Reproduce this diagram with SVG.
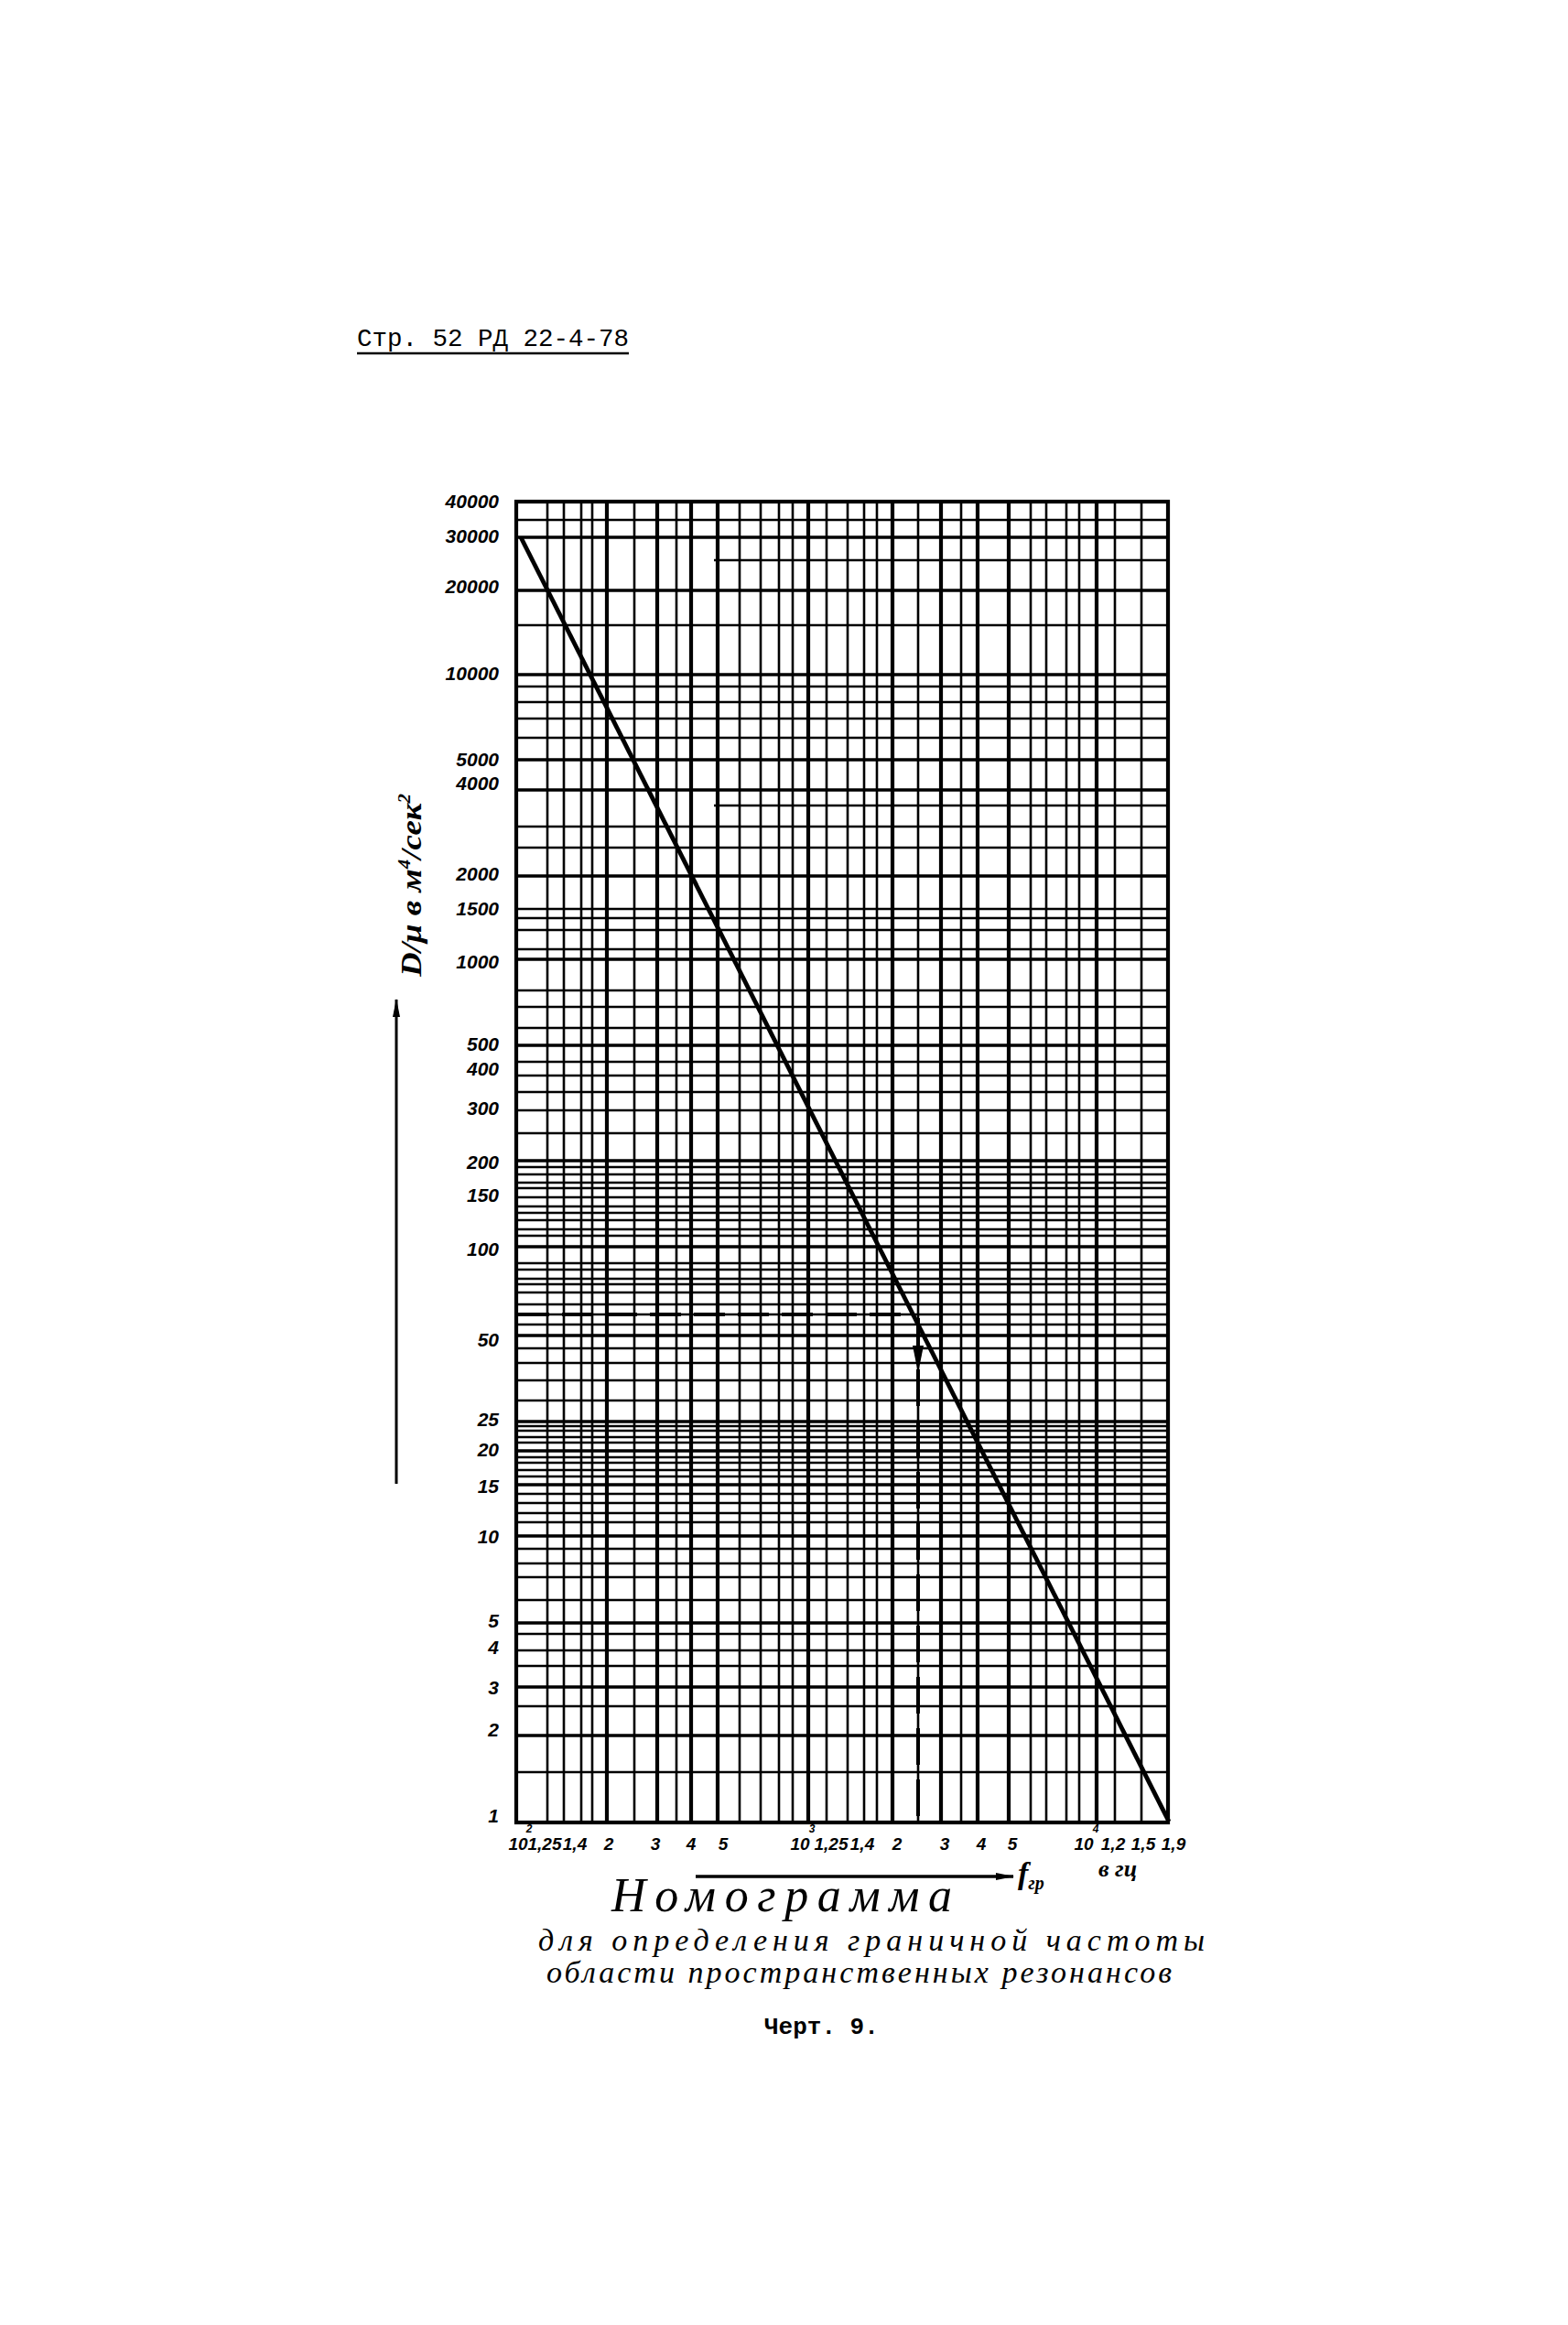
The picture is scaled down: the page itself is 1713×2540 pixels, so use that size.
<svg xmlns="http://www.w3.org/2000/svg" width="1713" height="2540" viewBox="0 0 1713 2540">
<style>
.bg{fill:#fff}
.ht{stroke:#000;stroke-width:2.7;fill:none}
.hm{stroke:#000;stroke-width:3.4;fill:none}
.vt{stroke:#000;stroke-width:2.6;fill:none}
.vm{stroke:#000;stroke-width:4.2;fill:none}
.bd{stroke:#000;stroke-width:4.2;fill:none}
.yl{font-family:"Liberation Sans",Arial,sans-serif;font-style:italic;font-weight:bold;font-size:21px;text-anchor:end;fill:#000}
.xl{font-family:"Liberation Sans",Arial,sans-serif;font-style:italic;font-weight:bold;font-size:19px;text-anchor:middle;fill:#000}
.sup{font-size:12px}
.hand{font-family:"Liberation Serif","DejaVu Serif",serif;font-style:italic;fill:#000}
.mono{font-family:"Liberation Mono","DejaVu Sans Mono",monospace;fill:#000}
</style>
<defs>
<marker id="arr" viewBox="0 0 20 10" refX="19" refY="5" markerWidth="20" markerHeight="10" markerUnits="userSpaceOnUse" orient="auto">
<path d="M0,1 L20,5 L0,9 Z" fill="#000"/>
</marker>
</defs>
<rect class="bg" x="0" y="0" width="1713" height="2540"/>

<g id="header">
<text class="mono" x="390" y="378" font-size="27.5">Стр. 52 РД 22-4-78</text>
<line x1="390" y1="386" x2="687" y2="386" stroke="#000" stroke-width="2.5"/>
</g>

<g id="grid">
<path class="ht" d="M564 568H1276M564 683H1276M564 750H1276M564 767H1276M564 785H1276M564 806H1276M564 903H1276M564 926H1276M564 993H1276M564 1003H1276M564 1016H1276M564 1037H1276M564 1082H1276M564 1100H1276M564 1123H1276M564 1160H1276M564 1175H1276M564 1193H1276M564 1213H1276M564 1238H1276M564 1275H1276M564 1283H1276M564 1292H1276M564 1298H1276M564 1308H1276M564 1318H1276M564 1325H1276M564 1333H1276M564 1343H1276M564 1350H1276M564 1380H1276M564 1387H1276M564 1397H1276M564 1403H1276M564 1412H1276M564 1425H1276M564 1436H1276M564 1447H1276M564 1473H1276M564 1489H1276M564 1508H1276M564 1530H1276M564 1558H1276M564 1563H1276M564 1570H1276M564 1576H1276M564 1592H1276M564 1598H1276M564 1606H1276M564 1613H1276M564 1632H1276M564 1642H1276M564 1653H1276M564 1663H1276M564 1692H1276M564 1708H1276M564 1723H1276M564 1748H1276M564 1785H1276M564 1803H1276M564 1820H1276M564 1864H1276M564 1936H1276M780 612H1276M780 880H1276"/>
<path class="hm" d="M564 587H1276M564 645H1276M564 737H1276M564 830H1276M564 863H1276M564 957H1276M564 1048H1276M564 1142H1276M564 1268H1276M564 1362H1276M564 1459H1276M564 1553H1276M564 1585H1276M564 1622H1276M564 1678H1276M564 1773H1276M564 1843H1276M564 1896H1276"/>
<path class="vt" d="M598 548V1991M616 548V1991M635 548V1991M647 548V1991M693 548V1991M739 548V1991M808 548V1991M831 548V1991M851 548V1991M866 548V1991M903 548V1991M926 548V1991M944 548V1991M958 548V1991M1003 548V1991M1050 548V1991M1126 548V1991M1143 548V1991M1165 548V1991M1179 548V1991M1218 548V1991M1247 548V1991"/>
<path class="vm" d="M663 548V1991M718 548V1991M755 548V1991M784 548V1991M883 548V1991M975 548V1991M1028 548V1991M1068 548V1991M1102 548V1991M1198 548V1991"/>
<rect class="bd" x="564" y="548" width="712" height="1443"/>
</g>

<g id="connectors">
<line id="curve" x1="569" y1="587" x2="1277" y2="1990" stroke="#000" stroke-width="4.8"/>
<line id="example-h" x1="566" y1="1436" x2="996" y2="1436" stroke="#000" stroke-width="4" stroke-dasharray="34 14"/>
<line id="example-v" x1="1003" y1="1440" x2="1003" y2="1988" stroke="#000" stroke-width="4" stroke-dasharray="40 16"/>
<path id="example-arrow" d="M997 1470 L1003 1500 L1009 1470 Z" fill="#000"/>
<line id="y-arrow" x1="433" y1="1621" x2="433" y2="1092" stroke="#000" stroke-width="3" marker-end="url(#arr)"/>
<line id="x-arrow" x1="760" y1="2050" x2="1107" y2="2050" stroke="#000" stroke-width="3.5" marker-end="url(#arr)"/>
</g>

<g id="y-labels">
<text class="yl" x="545" y="555">40000</text>
<text class="yl" x="545" y="593">30000</text>
<text class="yl" x="545" y="648">20000</text>
<text class="yl" x="545" y="743">10000</text>
<text class="yl" x="545" y="837">5000</text>
<text class="yl" x="545" y="863">4000</text>
<text class="yl" x="545" y="962">2000</text>
<text class="yl" x="545" y="1000">1500</text>
<text class="yl" x="545" y="1058">1000</text>
<text class="yl" x="545" y="1148">500</text>
<text class="yl" x="545" y="1175">400</text>
<text class="yl" x="545" y="1218">300</text>
<text class="yl" x="545" y="1277">200</text>
<text class="yl" x="545" y="1313">150</text>
<text class="yl" x="545" y="1372">100</text>
<text class="yl" x="545" y="1471">50</text>
<text class="yl" x="545" y="1558">25</text>
<text class="yl" x="545" y="1591">20</text>
<text class="yl" x="545" y="1631">15</text>
<text class="yl" x="545" y="1686">10</text>
<text class="yl" x="545" y="1778">5</text>
<text class="yl" x="545" y="1807">4</text>
<text class="yl" x="545" y="1851">3</text>
<text class="yl" x="545" y="1897">2</text>
<text class="yl" x="545" y="1991">1</text>
</g>

<g id="y-title">
<text class="hand" transform="translate(460,1067) rotate(-90)" font-size="32" font-weight="bold" textLength="200" lengthAdjust="spacingAndGlyphs">D/μ в м<tspan dy="-12" font-size="18">4</tspan><tspan dy="12">/сек</tspan><tspan dy="-12" font-size="18">2</tspan></text>
</g>

<g id="x-labels">
<text class="xl" x="566" y="2021" font-size="16">10</text><text class="xl sup" x="578" y="2002">2</text>
<text class="xl" x="595" y="2021" font-size="11">1,25</text>
<text class="xl" x="628" y="2021" font-size="13">1,4</text>
<text class="xl" x="665" y="2021">2</text>
<text class="xl" x="716" y="2021">3</text>
<text class="xl" x="755" y="2021">4</text>
<text class="xl" x="790" y="2021">5</text>
<text class="xl" x="874" y="2021" font-size="17">10</text><text class="xl sup" x="887" y="2002">3</text>
<text class="xl" x="908" y="2021" font-size="13">1,25</text>
<text class="xl" x="942" y="2021" font-size="15">1,4</text>
<text class="xl" x="980" y="2021">2</text>
<text class="xl" x="1032" y="2021">3</text>
<text class="xl" x="1072" y="2021">4</text>
<text class="xl" x="1106" y="2021">5</text>
<text class="xl" x="1184" y="2021" font-size="17">10</text><text class="xl sup" x="1197" y="2002">4</text>
<text class="xl" x="1216" y="2021" font-size="17">1,2</text>
<text class="xl" x="1249" y="2021" font-size="17">1,5</text>
<text class="xl" x="1282" y="2021" font-size="17">1,9</text>
</g>

<g id="x-title">
<text class="hand" x="1112" y="2058" font-size="34" font-weight="bold">f<tspan font-size="20" dy="6">гр</tspan></text>
<text class="hand" x="1200" y="2050" font-size="26" font-weight="bold">в гц</text>
</g>

<g id="caption">
<text class="hand" x="668" y="2088" font-size="52" textLength="372" lengthAdjust="spacing">Номограмма</text>
<text class="hand" x="588" y="2131" font-size="34" textLength="728" lengthAdjust="spacing">для определения граничной частоты</text>
<text class="hand" x="597" y="2166" font-size="34" textLength="683" lengthAdjust="spacing">области пространственных резонансов</text>
<text class="mono" x="835" y="2222" font-size="26" font-weight="bold">Черт. 9.</text>
</g>
</svg>
